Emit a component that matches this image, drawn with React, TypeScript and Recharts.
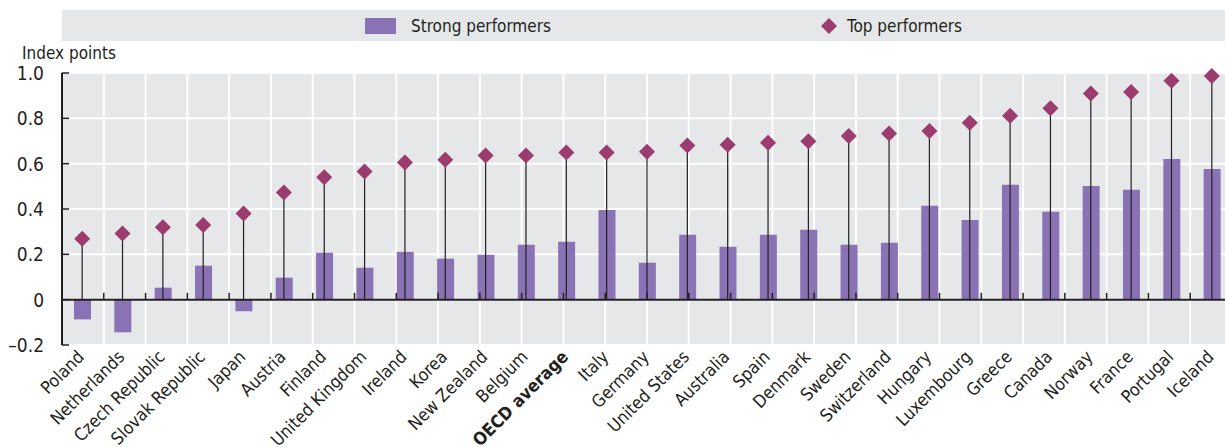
import { ComposedChart, Bar, Scatter, ErrorBar, XAxis, YAxis, CartesianGrid, ReferenceLine } from 'recharts';

const countries = [
  'Poland', 'Netherlands', 'Czech Republic', 'Slovak Republic', 'Japan', 'Austria', 'Finland',
  'United Kingdom', 'Ireland', 'Korea', 'New Zealand', 'Belgium', 'OECD average', 'Italy',
  'Germany', 'United States', 'Australia', 'Spain', 'Denmark', 'Sweden', 'Switzerland',
  'Hungary', 'Luxembourg', 'Greece', 'Canada', 'Norway', 'France', 'Portugal', 'Iceland',
];

const strongPerformers = [
  -0.087, -0.144, 0.053, 0.15, -0.051, 0.097, 0.207, 0.141, 0.211, 0.181, 0.198, 0.242, 0.256,
  0.396, 0.163, 0.286, 0.233, 0.286, 0.308, 0.242, 0.251, 0.414, 0.352, 0.507, 0.388, 0.502,
  0.485, 0.621, 0.577,
];

const topPerformers = [
  0.269, 0.292, 0.319, 0.329, 0.38, 0.473, 0.54, 0.565, 0.605, 0.617, 0.636, 0.636, 0.649,
  0.649, 0.653, 0.68, 0.684, 0.692, 0.699, 0.722, 0.733, 0.744, 0.781, 0.811, 0.844, 0.91,
  0.916, 0.966, 0.987,
];

const yTicks = [-0.2, 0, 0.2, 0.4, 0.6, 0.8, 1.0];

const FONT = '"Liberation Sans Narrow", "DejaVu Sans Condensed", sans-serif';
const BAR = '#8a73b4';
const DIAMOND = '#9b3b6e';
const INK = '#231f20';

const data = countries.map((country, i) => ({
  country,
  strong: strongPerformers[i],
  top: topPerformers[i],
  stem: [topPerformers[i], 0],
}));

const boundaries = countries.map((_, i) => i).concat(countries.length);

const fmtY = (v: number) => (v === 0 ? '0' : v < 0 ? '\u2013' + Math.abs(v).toFixed(1) : v.toFixed(1));

const YTick = ({ x, y, payload }: any) => (
  <g>
    <text x={x} y={y} dy="0.36em" textAnchor="end" fontFamily={FONT} fontSize={19} fill={INK}>
      {fmtY(payload.value)}
    </text>
    <line x1={x + 18} x2={x + 25} y1={y} y2={y} stroke={INK} strokeWidth={1.5} />
  </g>
);

const XTick = ({ x, y, payload }: any) => (
  <g transform={`translate(${x + 3},${y + 13})`}>
    <text
      textAnchor="end"
      transform="rotate(-45)"
      fontFamily={FONT}
      fontSize={17.5}
      fontWeight={payload.value === 'OECD average' ? 'bold' : 'normal'}
      fill={INK}
    >
      {payload.value}
    </text>
  </g>
);

const Diamond = ({ cx, cy }: any) => (
  <polygon points={`${cx},${cy - 8} ${cx + 8},${cy} ${cx},${cy + 8} ${cx - 8},${cy}`} fill={DIAMOND} />
);

const textStyle = { position: 'absolute' as const, fontFamily: FONT, fontSize: 17, lineHeight: '17px', color: INK };

export default function App() {
  return (
    <div style={{ position: 'absolute', left: 0, top: 0, width: 1225, height: 447, overflow: 'hidden', background: '#fff' }}>
      <div style={{ position: 'absolute', left: 62, top: 10, width: 1163, height: 31, background: '#e6e7e9' }} />
      <div style={{ position: 'absolute', left: 365, top: 18, width: 31, height: 16, background: BAR }} />
      <div style={{ ...textStyle, left: 411, top: 18 }}>Strong performers</div>
      <svg style={{ position: 'absolute', left: 820, top: 17 }} width={18} height={18}>
        <polygon points="9,1 17,9 9,17 1,9" fill={DIAMOND} />
      </svg>
      <div style={{ ...textStyle, left: 847, top: 18 }}>Top performers</div>
      <div style={{ ...textStyle, left: 22, top: 45 }}>Index points</div>
      <div style={{ position: 'absolute', left: 0, top: 0 }}>
        <ComposedChart width={1232} height={447} data={data} margin={{ top: 73, right: 0, bottom: 0, left: 0 }}>
          <XAxis xAxisId="grid" type="number" domain={[0, countries.length]} ticks={boundaries} hide />
          <CartesianGrid
            xAxisId="grid"
            horizontal
            vertical
            fill="#e6e7e9"
            fillOpacity={1}
            stroke="#ffffff"
            strokeWidth={2}
          />
          <XAxis
            dataKey="country"
            interval={0}
            height={102}
            axisLine={false}
            tickLine={false}
            tickSize={0}
            tickMargin={0}
            tick={<XTick />}
          />
          <YAxis
            domain={[-0.2, 1.0]}
            ticks={yTicks}
            width={62}
            tickSize={0}
            tickMargin={18}
            tickLine={false}
            axisLine={{ stroke: INK, strokeWidth: 2 }}
            tick={<YTick />}
            interval={0}
          />
          <Bar dataKey="strong" fill={BAR} barSize={17} isAnimationActive={false} />
          <ReferenceLine y={0} stroke={INK} strokeWidth={2} />
          {boundaries.map((b) => (
            <ReferenceLine
              key={b}
              xAxisId="grid"
              segment={[{ x: b, y: 0 }, { x: b, y: 0.03 }]}
              stroke={INK}
              strokeWidth={1.5}
            />
          ))}
          <Scatter dataKey="top" shape={<Diamond />} isAnimationActive={false}>
            <ErrorBar dataKey="stem" direction="y" width={0} stroke={INK} strokeWidth={1.2} isAnimationActive={false} />
          </Scatter>
        </ComposedChart>
      </div>
    </div>
  );
}
